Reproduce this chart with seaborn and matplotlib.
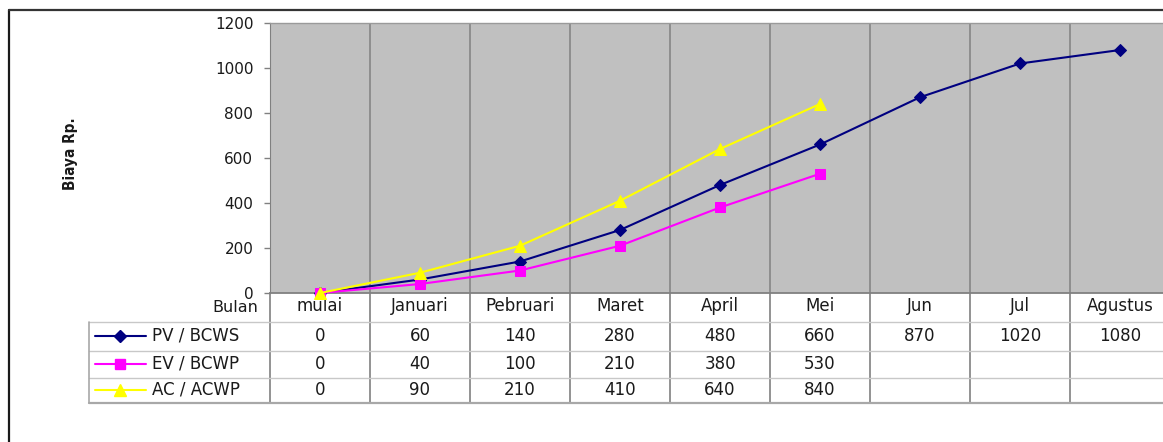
import numpy as np
import pandas as pd
import matplotlib
matplotlib.use("Agg")
import matplotlib.pyplot as plt
import seaborn as sns
from matplotlib.transforms import blended_transform_factory

# Monthly cumulative cost figures (Biaya Rp.)
months = ["mulai", "Januari", "Pebruari", "Maret", "April", "Mei", "Jun", "Jul", "Agustus"]
pv_bcws = [0, 60, 140, 280, 480, 660, 870, 1020, 1080]
ev_bcwp = [0, 40, 100, 210, 380, 530]
ac_acwp = [0, 90, 210, 410, 640, 840]
series_names = ["PV / BCWS", "EV / BCWP", "AC / ACWP"]
y_ticks = [0, 200, 400, 600, 800, 1000, 1200]
y_label = "Biaya Rp."
x_label = "Bulan"

sns.set_style("white")
plt.rcParams["font.family"] = ["DejaVu Sans"]

W, H = 1163, 442
fig = plt.figure(figsize=(W / 100, H / 100), dpi=100)


def px_box(x0, y0, x1, y1):
    return [x0 / W, 1 - y1 / H, (x1 - x0) / W, (y1 - y0) / H]


# pixel-space overlay for the frame and the data table
tab = fig.add_axes([0, 0, 1, 1], zorder=0)
tab.set_xlim(0, W)
tab.set_ylim(H, 0)
tab.axis("off")

ax = fig.add_axes(px_box(270, 23, 1170, 293), zorder=1)
ax.set_facecolor("#C0C0C0")

styles = [
    (series_names[0], pv_bcws, "#000080", "D", 6.5),
    (series_names[1], ev_bcwp, "#FF00FF", "s", 6.5),
    (series_names[2], ac_acwp, "#FFFF00", "^", 8),
]
for name, vals, color, marker, ms in styles:
    df = pd.DataFrame({"pos": np.arange(len(vals)), "nilai": vals})
    sns.lineplot(data=df, x="pos", y="nilai", color=color, marker=marker,
                 markersize=ms, markeredgecolor=color, linewidth=1.5,
                 ax=ax, zorder=3, clip_on=False)

ax.set_xlim(-0.5, len(months) - 0.5)
ax.set_ylim(0, 1200)
ax.set_yticks(y_ticks)
ax.set_xticks([])
ax.set_xticks(np.arange(-0.5, len(months), 1.0), minor=True)
ax.grid(which="minor", axis="x", color="#868686", linewidth=1.2)
ax.grid(which="major", visible=False)
ax.tick_params(axis="y", left=True, length=4, width=1, color="#808080",
               pad=8, labelsize=11, labelcolor="#1a1a1a")
ax.tick_params(axis="x", which="both", bottom=False, labelbottom=False)
ax.set_xlabel("")
ax.set_ylabel("")
ax.spines["left"].set_color("#808080")
ax.spines["bottom"].set_color("#808080")
ax.spines["bottom"].set_linewidth(1.3)
ax.spines["top"].set_color("#9a9a9a")
ax.spines["top"].set_linewidth(1.0)
ax.spines["right"].set_visible(False)

fig.text(70 / W, 1 - 153.5 / H, y_label, rotation=90, fontsize=11,
         fontweight="bold", fontstretch="condensed",
         ha="center", va="center", color="#1a1a1a")

# outer chart frame
tab.plot([8.5, 8.5], [H + 5, 9.5], color="#1a1a1a", lw=1.6, clip_on=False)
tab.plot([8.5, W + 5], [9.5, 9.5], color="#333333", lw=1.6, clip_on=False)

trans = blended_transform_factory(ax.transData, tab.transData)

# data table grid
for b in np.arange(-0.5, len(months), 1.0):
    tab.plot([b, b], [293, 403], transform=trans, color="#808080", lw=1.2)
for yl in [322, 351, 378]:
    tab.plot([89, W + 5], [yl, yl], color="#c8c8c8", lw=1.0)
tab.plot([89, W + 5], [403, 403], color="#a8a8a8", lw=1.6)
tab.plot([89, 89], [322, 403], color="#a8a8a8", lw=1.2)

# header row
tab.text(258, 312, x_label, ha="right", va="baseline", fontsize=11.5,
         color="#1a1a1a")
for i, m in enumerate(months):
    tab.text(i, 306, m, transform=trans, ha="center", va="center",
             fontsize=12, color="#1a1a1a")

# series rows with legend keys
row_y = [336, 364, 390]
for (name, vals, color, marker, ms), yr in zip(styles, row_y):
    tab.plot([95, 146], [yr, yr], color=color, lw=1.5)
    tab.plot([120], [yr], marker=marker, markersize=ms, color=color,
             markeredgecolor=color)
    tab.text(152, yr, name, ha="left", va="center", fontsize=12, color="#1a1a1a")
    for i, v in enumerate(vals):
        tab.text(i, yr, str(v), transform=trans, ha="center", va="center",
                 fontsize=12, color="#1a1a1a")

fig.savefig("out.png", dpi=100)
